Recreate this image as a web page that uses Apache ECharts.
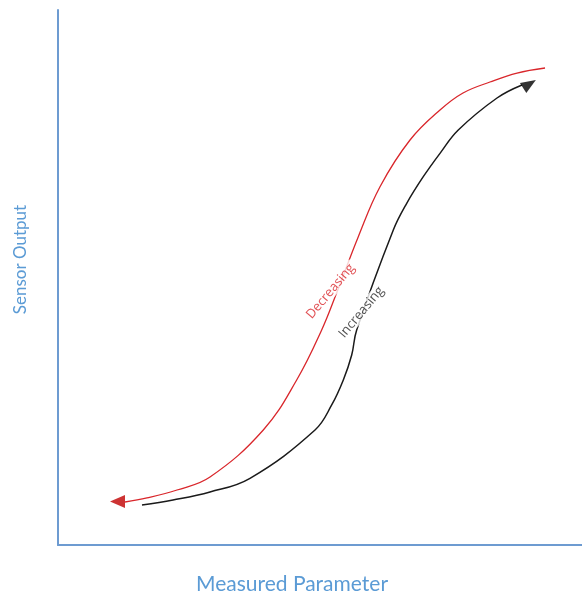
<!DOCTYPE html>
<html>
<head>
<meta charset="utf-8">
<script src="https://cdn.jsdelivr.net/npm/echarts@6/dist/echarts.min.js"></script>
<style>
html,body{margin:0;padding:0;background:#fff;}
#chart{width:582px;height:593px;}
</style>
</head>
<body>
<div id="chart"></div>
<script>
// Decreasing (red) path, from top-right down to bottom-left
const decreasingX = [92.94, 87.60, 82.44, 77.29, 72.90, 67.18, 61.45, 57.31, 53.24, 50.32, 45.55, 39.18, 29.01, 22.71, 16.98, 12.79];
const decreasingY = [89.16, 88.22, 86.54, 84.49, 81.31, 75.70, 66.97, 57.63, 47.29, 40.19, 30.84, 21.50, 12.71, 10.28, 8.79, 8.04];
// Increasing (black) path, from bottom-left up to top-right
const increasingX = [16.03, 21.95, 29.01, 36.64, 49.05, 52.23, 54.45, 56.05, 57.00, 63.99, 66.55, 69.71, 72.90, 76.39, 83.78, 88.55];
const increasingY = [7.48, 8.41, 9.91, 12.47, 21.50, 26.17, 30.84, 35.51, 40.19, 58.88, 63.87, 68.84, 73.21, 77.57, 83.55, 85.98];
// arrow heads
const decArrow = [11.35, 8.13];
const incArrow = [89.98, 86.17];
// curve labels
const labels = [
  {name: 'Decreasing', x: 52.0, y: 47.4, color: '#d9262b'},
  {name: 'Increasing', x: 57.9, y: 43.5, color: '#262626'}
];
const xName = 'Measured Parameter';
const yName = 'Sensor Output';

const zip = (xs, ys) => xs.map((x, i) => [x, ys[i]]);
const axisBlue = '#6d9bd1';
const nameBlue = '#5b9bd5';
const font = 'Lato';

// smooth curve through all points of a series, placed with the axis scales
function curveSeries(points, color, width) {
  return {
    type: 'custom',
    data: points,
    renderItem: function (params, api) {
      if (params.dataIndex !== 0) return null;
      const pts = points.map(p => api.coord(p));
      return {
        type: 'polyline',
        shape: {points: pts, smooth: 0.4},
        style: {stroke: color, lineWidth: width, fill: null}
      };
    }
  };
}

const chart = echarts.init(document.getElementById('chart'));
chart.setOption({
  animation: false,
  grid: {left: 58, right: 0, top: 10, bottom: 48, outerBoundsMode: 'none', containLabel: false},
  xAxis: {
    type: 'value', min: 0, max: 100,
    name: xName, nameLocation: 'middle', nameGap: 29,
    nameTextStyle: {color: nameBlue, fontSize: 21, fontFamily: font, padding: [0, 56, 0, 0]},
    axisLine: {show: true, onZero: false, lineStyle: {color: axisBlue, width: 2}},
    axisTick: {show: false}, axisLabel: {show: false}, splitLine: {show: false}
  },
  yAxis: {
    type: 'value', min: 0, max: 100,
    name: yName, nameLocation: 'middle', nameGap: 29,
    nameTextStyle: {color: nameBlue, fontSize: 17, fontFamily: font, padding: [0, 0, 0, 36]},
    axisLine: {show: true, onZero: false, lineStyle: {color: axisBlue, width: 2}},
    axisTick: {show: false}, axisLabel: {show: false}, splitLine: {show: false}
  },
  series: [
    curveSeries(zip(decreasingX, decreasingY), '#d9262b', 1.3),
    curveSeries(zip(increasingX, increasingY), '#1a1a1a', 1.5),
    {
      type: 'scatter', data: [decArrow], symbol: 'triangle', symbolSize: [13, 15],
      symbolRotate: 90, itemStyle: {color: '#c00000'}
    },
    {
      type: 'scatter', data: [incArrow], symbol: 'triangle', symbolSize: [12, 15],
      symbolRotate: -58, itemStyle: {color: '#000'}
    },
    {
      type: 'scatter', symbolSize: 0, z: 5,
      data: labels.map(l => ({
        value: [l.x, l.y], name: l.name,
        label: {
          show: true, formatter: '{b}', position: 'inside', rotate: 50,
          color: l.color, fontSize: 13, fontFamily: 'Open Sans',
          backgroundColor: '#fff', padding: [0, 3]
        }
      }))
    }
  ]
});
</script>
</body>
</html>
